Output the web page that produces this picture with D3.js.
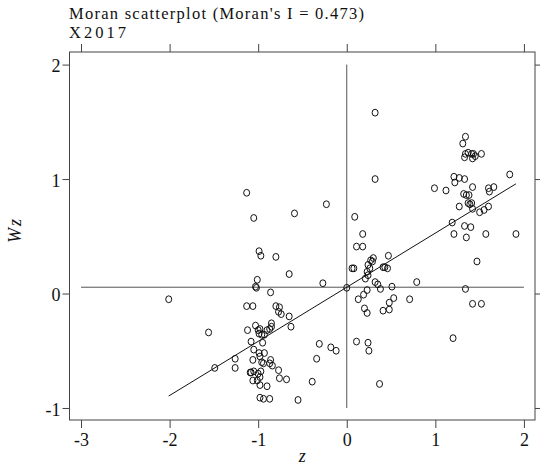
<!DOCTYPE html>
<html lang="en">
<head>
    <meta charset="UTF-8">
    <title>Moran scatterplot</title>
    <script src="https://d3js.org/d3.v7.min.js"></script>
    <style>
        body { margin: 0; background: #fff; }
        svg text { font-family: "Liberation Serif", "DejaVu Serif", serif; fill: #111; }
        .frame { fill: none; stroke: #444; stroke-width: 1px; }
        .axis path { display: none; }
        .axis line { stroke: #444; }
        .axis text { font-size: 18px; font-family: "Liberation Serif", serif; }
        .ref-line { stroke: #555; stroke-width: 1px; }
        .fit-line { stroke: #111; stroke-width: 1px; fill: none; }
        .pt { fill: none; stroke: #111; stroke-width: 1px; }
        .lab { font-style: italic; font-size: 18px; }
    </style>
</head>
<body>
<div id="chart"></div>
<script>
    // standardized values (z) and their spatial lag (Wz)
    const zVals = [
        -1.13, -1.05, -0.99, -0.97, -0.80, -0.65, -0.59, -0.23, -1.01, -1.03,
        -1.02, -0.27, -2.01, -0.86, -1.13, -1.06, -0.80, -0.76, -0.77, -0.74,
        -0.65, -0.63, -1.12, -1.03, -1.00, -0.98, -0.99, -0.96, -0.93, -0.90,
        -0.87, -0.85, -0.85, -1.56, -1.08, -0.95, -1.05, -0.99, -0.98, -0.93,
        -1.06, -0.96, -0.94, -0.86, -0.87, -0.84, -1.26, -1.26, -1.49, -1.09,
        -1.08, -1.05, -1.00, -0.97, -0.98, -1.06, -1.01, -0.77, -0.76, -0.68,
        -0.98, -0.90, -0.98, -0.94, -0.87, -0.55, -0.39, -0.34, -0.31, -0.18,
        -0.12, 0.00,
        0.32, 0.32, 0.09, 0.18, 0.11, 0.18, 0.06, 0.08, 0.47, 0.30,
        0.27, 0.29, 0.24, 0.26, 0.23, 0.24, 0.21, 0.41, 0.43, 0.46,
        0.32, 0.35, 0.38, 0.51, 0.79, 0.23, 0.19, 0.13, 0.53, 0.48,
        0.48, 0.41, 0.71, 0.20, 0.23, 0.11, 0.24, 0.25, 0.37,
        1.34, 1.31, 1.37, 1.34, 1.41, 1.43, 1.33, 1.42, 1.45, 1.52,
        1.84, 1.21, 1.27, 1.33, 1.22, 0.99, 1.12, 1.42, 1.60, 1.66,
        1.61, 1.32, 1.35, 1.38, 1.37, 1.41, 1.39, 1.42, 1.27, 1.60,
        1.55, 1.50, 1.19, 1.33, 1.40, 1.21, 1.35, 1.57, 1.91, 1.47,
        1.34, 1.42, 1.52, 1.20
    ];
    const wzVals = [
        0.88, 0.66, 0.37, 0.33, 0.32, 0.17, 0.70, 0.78, 0.12, 0.06,
        0.05, 0.09, -0.05, 0.01, -0.11, -0.11, -0.11, -0.12, -0.16, -0.18,
        -0.20, -0.29, -0.32, -0.28, -0.32, -0.31, -0.35, -0.36, -0.36, -0.32,
        -0.31, -0.26, -0.29, -0.34, -0.42, -0.43, -0.49, -0.52, -0.55, -0.52,
        -0.58, -0.60, -0.61, -0.58, -0.61, -0.63, -0.57, -0.65, -0.65, -0.69,
        -0.69, -0.68, -0.70, -0.68, -0.73, -0.76, -0.76, -0.67, -0.74, -0.75,
        -0.80, -0.81, -0.91, -0.92, -0.92, -0.93, -0.77, -0.57, -0.44, -0.47,
        -0.50, 0.05,
        1.58, 1.00, 0.67, 0.52, 0.41, 0.41, 0.22, 0.22, 0.33, 0.31,
        0.29, 0.28, 0.25, 0.22, 0.19, 0.16, 0.13, 0.23, 0.23, 0.22,
        0.10, 0.08, 0.04, 0.06, 0.10, 0.03, -0.01, -0.05, -0.04, -0.08,
        -0.14, -0.15, -0.05, -0.13, -0.17, -0.42, -0.43, -0.50, -0.79,
        1.37, 1.31, 1.23, 1.22, 1.22, 1.22, 1.19, 1.18, 1.20, 1.22,
        1.04, 1.02, 1.01, 1.00, 0.97, 0.92, 0.90, 0.93, 0.92, 0.93,
        0.89, 0.87, 0.86, 0.86, 0.79, 0.79, 0.78, 0.74, 0.76, 0.76,
        0.73, 0.71, 0.62, 0.59, 0.58, 0.52, 0.49, 0.52, 0.52, 0.28,
        0.04, -0.09, -0.09, -0.39
    ];
    const xTicks = [-3, -2, -1, 0, 1, 2];
    const yTicks = [-1, 0, 1, 2];
    const moranI = 0.473;
    const meanZ = 0;
    const meanWz = 0.055;
    const titleText = "Moran scatterplot (Moran's I = 0.473)";
    const subtitleText = "X2017";

    const width = 540, height = 466;
    const plot = { left: 69.5, right: 535, top: 52, bottom: 420 };

    const svg = d3.select("#chart").append("svg")
        .attr("width", width)
        .attr("height", height);

    const x = d3.scaleLinear().domain([-3.13, 2.125]).range([plot.left, plot.right]);
    const y = d3.scaleLinear().domain([-1.105, 2.11]).range([plot.bottom, plot.top]);

    // titles
    svg.append("text").attr("x", 69).attr("y", 18.5)
        .attr("font-size", 16.5).attr("textLength", 295).attr("lengthAdjust", "spacing")
        .text(titleText);
    svg.append("text").attr("x", 69).attr("y", 37.5)
        .attr("font-size", 16.5).attr("textLength", 57).attr("lengthAdjust", "spacing")
        .text(subtitleText);

    // axes, ticks outside on all four sides
    const fmt = d => String(d);
    svg.append("g").attr("class", "axis")
        .attr("transform", `translate(0,${plot.bottom})`)
        .call(d3.axisBottom(x).tickValues(xTicks).tickFormat(fmt).tickSize(8).tickPadding(4))
        .call(g => g.attr("font-family", null).attr("font-size", null))
        .call(g => g.selectAll("text").attr("dy", "0.75em"));
    svg.append("g").attr("class", "axis")
        .attr("transform", `translate(0,${plot.top})`)
        .call(d3.axisTop(x).tickValues(xTicks).tickFormat("").tickSize(8));
    svg.append("g").attr("class", "axis")
        .attr("transform", `translate(${plot.left},0)`)
        .call(d3.axisLeft(y).tickValues(yTicks).tickFormat(fmt).tickSize(7).tickPadding(2))
        .call(g => g.attr("font-family", null).attr("font-size", null))
        .call(g => g.selectAll("text").attr("dy", "0.4em"));
    svg.append("g").attr("class", "axis")
        .attr("transform", `translate(${plot.right},0)`)
        .call(d3.axisRight(y).tickValues(yTicks).tickFormat("").tickSize(8));

    svg.append("rect").attr("class", "frame")
        .attr("x", plot.left).attr("y", plot.top)
        .attr("width", plot.right - plot.left).attr("height", plot.bottom - plot.top);

    // axis titles
    svg.append("text").attr("class", "lab")
        .attr("transform", `translate(21,230) rotate(-90)`)
        .attr("text-anchor", "middle")
        .attr("letter-spacing", 2)
        .text("Wz");
    svg.append("text").attr("class", "lab")
        .attr("x", (plot.left + plot.right) / 2).attr("y", 462)
        .attr("text-anchor", "middle")
        .text("z");

    // mean reference lines
    svg.append("line").attr("class", "ref-line")
        .attr("x1", x(d3.min(xTicks))).attr("x2", x(d3.max(xTicks)))
        .attr("y1", y(meanWz)).attr("y2", y(meanWz));
    svg.append("line").attr("class", "ref-line")
        .attr("x1", x(meanZ)).attr("x2", x(meanZ))
        .attr("y1", y(d3.min(yTicks))).attr("y2", y(d3.max(yTicks)));

    // fitted line, slope = Moran's I
    const zExt = d3.extent(zVals);
    const fit = zExt.map(z => ({ z: z, wz: meanWz + moranI * (z - meanZ) }));
    svg.append("path").datum(fit).attr("class", "fit-line")
        .attr("d", d3.line().x(d => x(d.z)).y(d => y(d.wz)));

    const points = zVals.map((z, i) => ({ z: z, wz: wzVals[i] }));
    svg.append("g").selectAll("ellipse").data(points).enter()
        .append("ellipse").attr("class", "pt")
        .attr("cx", d => x(d.z)).attr("cy", d => y(d.wz))
        .attr("rx", 3).attr("ry", 3.4);
</script>
</body>
</html>
